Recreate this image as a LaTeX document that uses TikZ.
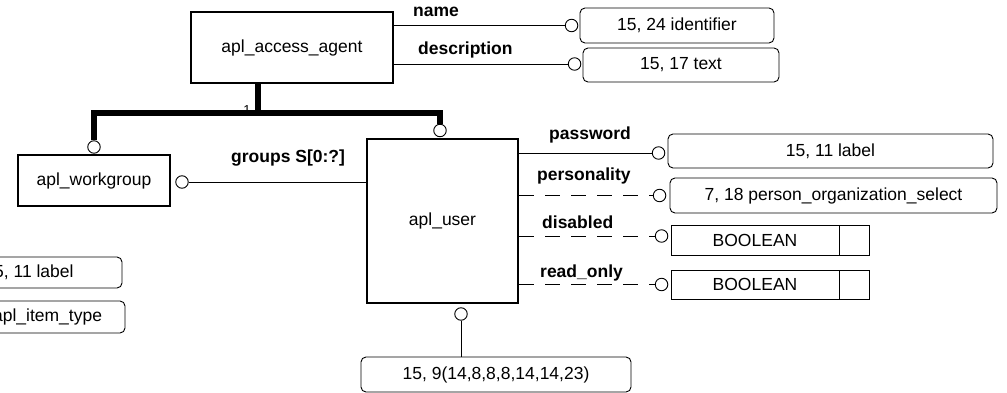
\documentclass[tikz,border=0pt]{standalone}
\usepackage{fontspec}
\setmainfont{Liberation Sans}
\usetikzlibrary{calc}
\begin{document}
\begin{tikzpicture}[x=1pt,y=-1pt,
  every node/.append style={font=\fontsize{17.5}{20}\selectfont},
  ent/.style={draw, line width=2pt, inner sep=0pt},
  typ/.style={draw, line width=0.9pt, rounded corners=5pt, inner sep=0pt},
  sel/.style={draw, line width=0.9pt, inner sep=0pt},
  opt/.style={draw, line width=0.9pt, fill=white, circle, minimum size=12.5pt, inner sep=0pt},
  rel/.style={line width=0.9pt},
  drel/.style={line width=0.9pt, dash pattern=on 15pt off 11pt},
  tree/.style={line width=6pt},
  lbl/.style={font=\bfseries\fontsize{17.5}{20}\selectfont, inner sep=0pt, anchor=base west}
]
\useasboundingbox (0,0) rectangle (1007,393);
\clip (0,0) rectangle (1007,393);

% entities
\node[ent, minimum width=202pt, minimum height=71pt] (agent) at (292,47.5) {apl\_access\_agent};
\node[ent, minimum width=152pt, minimum height=51pt] (wg) at (94,180.5) {apl\_workgroup};
\node[ent, minimum width=151pt, minimum height=164pt] (user) at (442.5,221) {apl\_user};

% types
\node[typ, minimum width=194pt, minimum height=35pt] (tname) at (677,25.5) {15, 24 identifier};
\node[typ, minimum width=196pt, minimum height=34pt] (tdesc) at (681,65) {15, 17 text};
\node[typ, minimum width=325pt, minimum height=34pt] (tpw) at (830.5,151) {15, 11 label};
\node[typ, minimum width=327pt, minimum height=35pt] (tpers) at (833.5,195.5) {7, 18 person\_organization\_select};
\node[sel, minimum width=168pt, minimum height=30pt] (tdis) at (755,240) {BOOLEAN};
\node[sel, minimum width=30pt, minimum height=30pt, anchor=west] (tdisx) at (tdis.east) {};
\node[sel, minimum width=168pt, minimum height=29pt] (tro) at (755,284.5) {BOOLEAN};
\node[sel, minimum width=30pt, minimum height=29pt, anchor=west] (trox) at (tro.east) {};
\node[typ, minimum width=270pt, minimum height=35pt] (tbot) at (496,374.5) {15, 9(14,8,8,8,14,14,23)};
\node[typ, minimum width=186pt, minimum height=31pt] (tl1) at (29,272.5) {15, 11 label};
\node[typ, minimum height=32pt, text width=144pt, inner xsep=23pt, align=right] (tl2) at (30,317) {apl\_item\_type};

% optional circles
\node[opt] (cn) at ($(tname.west)+(-8,0)$) {};
\node[opt] (cd) at ($(tdesc.west)+(-8,-1)$) {};
\node[opt] (cwg) at ($(wg.north)+(0,-7)$) {};
\node[opt] (cus) at ($(user.north)+(-2.5,-7.5)$) {};
\node[opt] (cg) at ($(wg.east)+(11,1.5)$) {};
\node[opt] (cpw) at ($(tpw.west)+(-9,2)$) {};
\node[opt] (cpers) at ($(tpers.west)+(-10,0)$) {};
\node[opt] (cdis) at ($(tdis.west)+(-9,-4)$) {};
\node[opt] (cro) at ($(tro.west)+(-9,0)$) {};
\node[opt] (cb) at ($(user.south)+(18.5,10)$) {};

% labels
\node[font=\fontsize{13}{13}\selectfont, inner sep=0pt, anchor=base] (one) at (247,115) {1};
\node[lbl] (lname) at (413,17) {name};
\node[lbl] (ldesc) at (418,55) {description};
\node[lbl] (lgroups) at (231,163) {groups S[0:?]};
\node[lbl] (lpw) at (549,140) {password};
\node[lbl] (lpers) at (537,181) {personality};
\node[lbl] (ldis) at (542,228) {disabled};
\node[lbl] (lro) at (540,277) {read\_only};

% connectors
\draw[rel] (agent.east |- cn) -- (cn);
\draw[rel] (agent.east |- cd) -- (cd);
\coordinate (j) at ($(agent.south)+(-34,29)$);
\draw[tree] ($(agent.south)+(-34,0)$) -- (j);
\draw[tree] (cwg.north) |- (j) -| (cus.north);
\draw[rel] (user.west |- cg) -- (cg);
\draw[rel] (user.east |- cpw) -- (cpw);
\draw[drel] (user.east |- cpers) -- (cpers);
\draw[drel] (user.east |- cdis) -- (cdis);
\draw[drel] (user.east |- cro) -- (cro);
\draw[rel] (cb.south) -- (cb |- tbot.north);
\end{tikzpicture}
\end{document}
